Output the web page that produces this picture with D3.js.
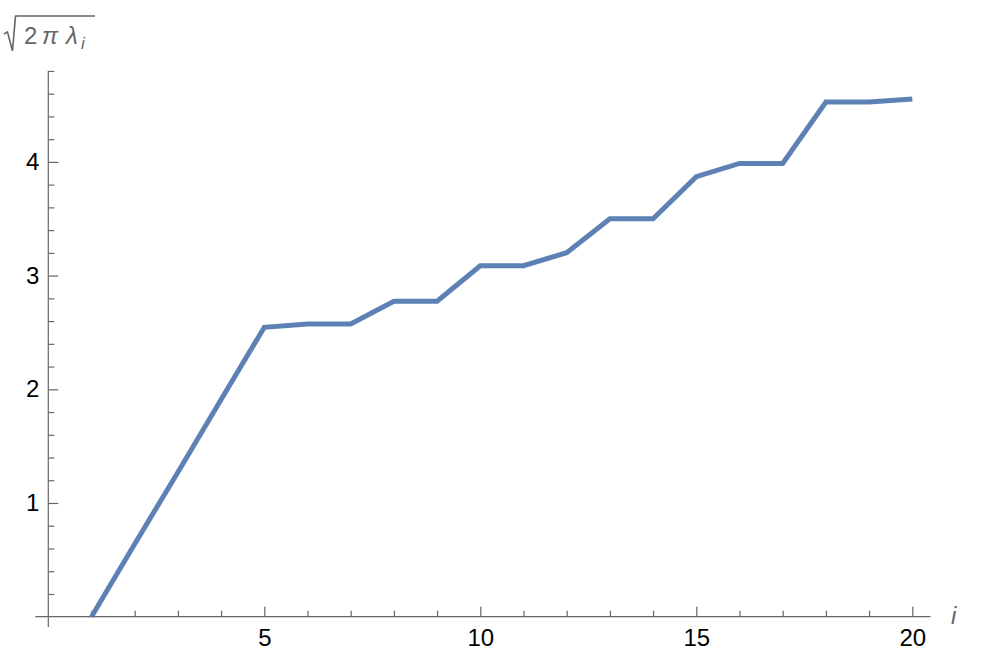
<!DOCTYPE html>
<html>
<head>
<meta charset="utf-8">
<script src="https://cdn.jsdelivr.net/npm/d3@7"></script>
<style>
  body { margin: 0; background: #fff; }
  svg { display: block; }
</style>
</head>
<body>
<div id="chart"></div>
<script>
const width = 989;
const height = 654;

// data: i -> sqrt(2 pi lambda_i)
const idx = [1, 2, 3, 4, 5, 6, 7, 8, 9, 10, 11, 12, 13, 14, 15, 16, 17, 18, 19, 20];
const vals = [0, 0.64, 1.27, 1.91, 2.545, 2.574, 2.574, 2.774, 2.774, 3.087,
  3.087, 3.202, 3.50, 3.50, 3.870, 3.987, 3.987, 4.527, 4.527, 4.553];

const xMajor = [5, 10, 15, 20];
const xMinor = d3.range(1, 21).filter(d => d % 5 !== 0);
const yMajor = [1, 2, 3, 4];
const yMinor = d3.range(1, 25).map(d => d / 5).filter(d => Math.abs(d - Math.round(d)) > 1e-9);

const axisColor = "#666";
const lineColor = "#5e81b5";
const font = "'Liberation Sans', Arial, sans-serif";

const x = d3.scaleLinear().domain([0, 20]).range([48.3, 912.3]);
const y = d3.scaleLinear().domain([0, 4]).range([616.7, 161.9]);

const svg = d3.select("#chart").append("svg")
  .attr("width", width).attr("height", height);

// axis lines
svg.append("line")
  .attr("x1", x(-0.3)).attr("x2", x(20.42))
  .attr("y1", y(0)).attr("y2", y(0))
  .attr("stroke", axisColor).attr("stroke-width", 1.2);
svg.append("line")
  .attr("x1", x(0)).attr("x2", x(0))
  .attr("y1", y(-0.09)).attr("y2", y(4.8))
  .attr("stroke", axisColor).attr("stroke-width", 1.2);

// x axis ticks (minor and major in separate groups)
const gxMinor = svg.append("g").attr("transform", `translate(0,${y(0)})`)
  .call(d3.axisBottom(x).tickValues(xMinor).tickSizeInner(-6).tickSizeOuter(0).tickFormat(""));
const gx = svg.append("g").attr("transform", `translate(0,${y(0)})`)
  .call(d3.axisBottom(x).tickValues(xMajor).tickSizeInner(-10).tickSizeOuter(0)
    .tickPadding(12).tickFormat(d3.format("d")));

// y axis ticks
const gyMinor = svg.append("g").attr("transform", `translate(${x(0)},0)`)
  .call(d3.axisLeft(y).tickValues(yMinor).tickSizeInner(-6).tickSizeOuter(0).tickFormat(""));
const gy = svg.append("g").attr("transform", `translate(${x(0)},0)`)
  .call(d3.axisLeft(y).tickValues(yMajor).tickSizeInner(-10).tickSizeOuter(0)
    .tickPadding(9).tickFormat(d3.format("d")));

[gxMinor, gx, gyMinor, gy].forEach(g => {
  g.selectAll(".domain").remove();
  g.selectAll("line").attr("stroke", axisColor).attr("stroke-width", 1.2);
  g.selectAll("text").attr("font-family", font).attr("font-size", 24).attr("fill", "#000");
});

// data line
svg.append("path")
  .datum(idx.map((d, k) => [d, vals[k]]))
  .attr("fill", "none")
  .attr("stroke", lineColor)
  .attr("stroke-width", 5)
  .attr("stroke-linejoin", "miter")
  .attr("d", d3.line().x(d => x(d[0])).y(d => y(d[1])));

// x axis label
svg.append("text")
  .attr("x", 951).attr("y", 624)
  .attr("font-family", font).attr("font-size", 24)
  .attr("font-style", "italic").attr("fill", axisColor)
  .text("i");

// y axis label: sqrt(2 pi lambda_i)
const lab = svg.append("g");
lab.append("path")
  .attr("d", "M4,34 L7.5,32 L12.5,51 L15.5,16 L95,16")
  .attr("fill", "none").attr("stroke", axisColor).attr("stroke-width", 1.6);
const t = lab.append("text")
  .attr("font-family", font).attr("font-size", 24).attr("fill", axisColor);
t.append("tspan").attr("x", 24).attr("y", 44).text("2");
t.append("tspan").attr("x", 42).attr("y", 44).attr("font-style", "italic").text("π");
t.append("tspan").attr("x", 66).attr("y", 44).attr("font-style", "italic").text("λ");
t.append("tspan").attr("x", 81).attr("y", 49).attr("font-size", 17).attr("font-style", "italic").text("i");
</script>
</body>
</html>
